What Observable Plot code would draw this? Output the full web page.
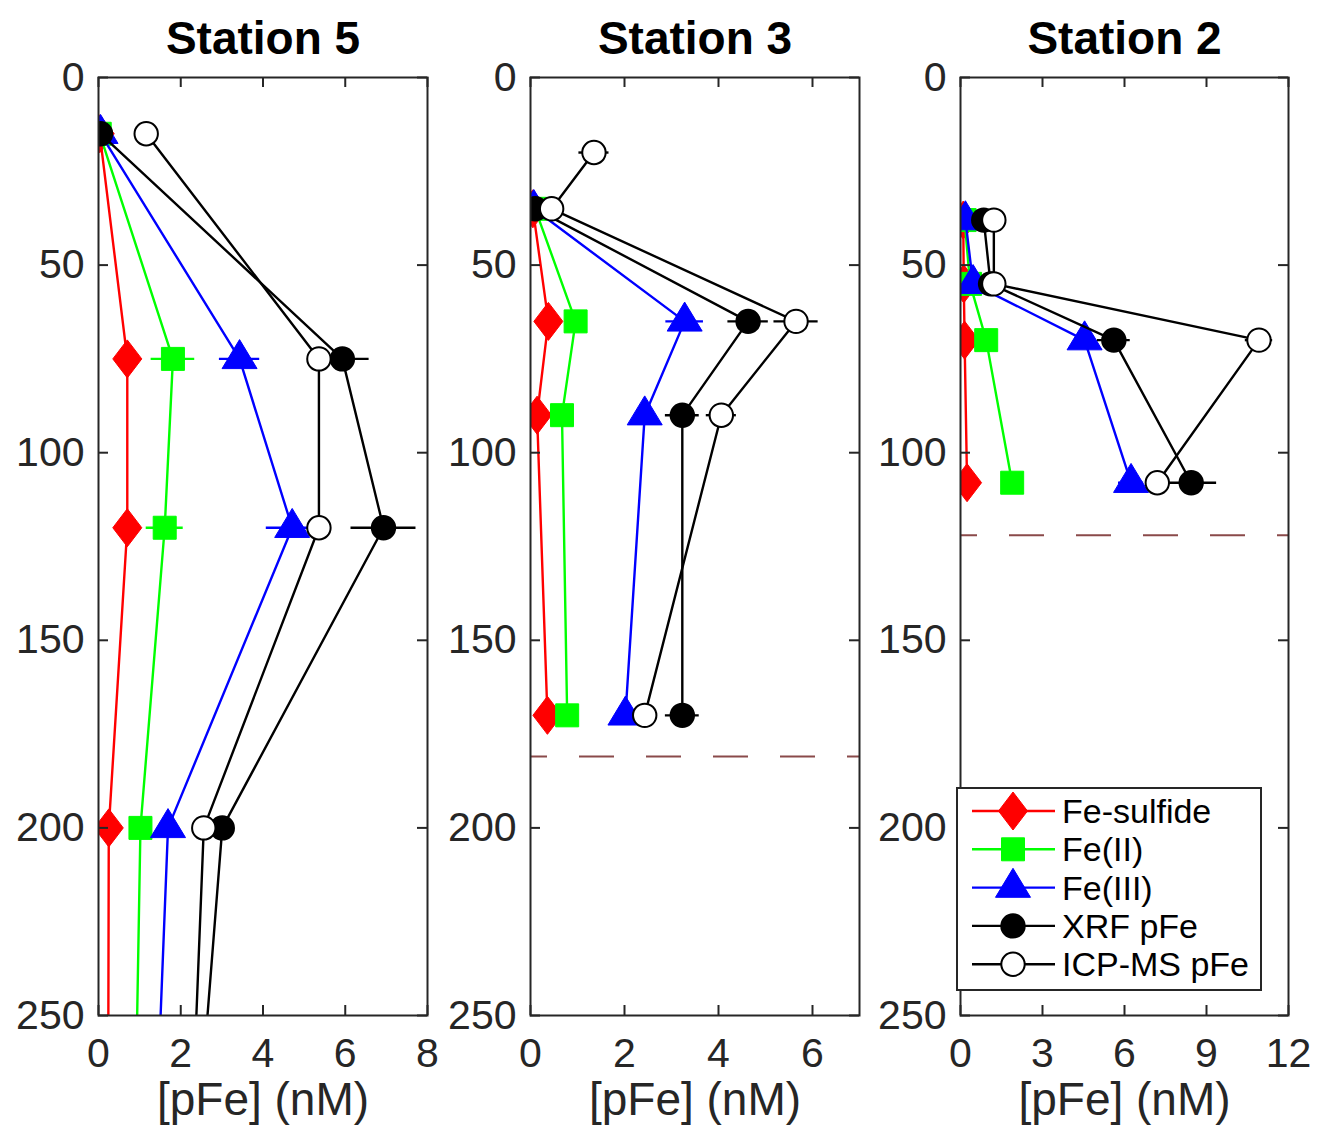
<!DOCTYPE html>
<html>
<head>
<meta charset="utf-8">
<script src="https://cdn.jsdelivr.net/npm/d3@7"></script>
<script src="https://cdn.jsdelivr.net/npm/@observablehq/plot@0.6"></script>
<style>
  html, body { margin: 0; padding: 0; background: #fff; }
  #chart { position: relative; width: 1317px; height: 1129px; font-family: "Liberation Sans", Arial, Helvetica, sans-serif; }
  #chart > svg, #chart > div { position: absolute; top: 0; }
</style>
</head>
<body>
<div id="chart"></div>
<script>
// ---------------- DATA ----------------
const stations = ["Station 5", "Station 3", "Station 2"];
const seriesNames = ["Fe-sulfide", "Fe(II)", "Fe(III)", "XRF pFe", "ICP-MS pFe"];
const xLabel = "[pFe] (nM)";
const yTicks = [0, 50, 100, 150, 200, 250];

// Station 5
const st5XTicks = [0, 2, 4, 6, 8];
const st5Depth = [15, 75, 120, 200, 300];
const st5Sulfide = [0.03, 0.70, 0.70, 0.25, 0.23];
const st5FeII = [0.03, 1.81, 1.61, 1.02, 0.86];
const st5FeIII = [0.05, 3.43, 4.71, 1.69, 1.33];
const st5XRF = [0.05, 5.93, 6.93, 3.01, 2.29];
const st5ICP = [1.16, 5.36, 5.36, 2.56, 2.20];
const st5SulfideErr = [0, 0, 0, 0, 0];
const st5FeIIErr = [0, 0.53, 0.45, 0, 0];
const st5FeIIIErr = [0, 0.49, 0.63, 0, 0];
const st5XRFErr = [0, 0.65, 0.79, 0, 0];
const st5ICPErr = [0, 0, 0, 0, 0];

// Station 3
const st3XTicks = [0, 2, 4, 6];
const st3Depth = [35, 65, 90, 170];
const st3ICPDepth = [20, 35, 65, 90, 170];
const st3Sulfide = [0.05, 0.38, 0.14, 0.36];
const st3FeII = [0.10, 0.96, 0.67, 0.78];
const st3FeIII = [0.07, 3.28, 2.43, 2.02];
const st3XRF = [0.10, 4.63, 3.23, 3.23];
const st3ICP = [1.35, 0.45, 5.65, 4.06, 2.43];
const st3SulfideErr = [0, 0, 0, 0];
const st3FeIIErr = [0, 0, 0, 0];
const st3FeIIIErr = [0, 0.40, 0, 0];
const st3XRFErr = [0, 0.43, 0.36, 0.36];
const st3ICPErr = [0.32, 0, 0.47, 0.32, 0];
const st3RefDepth = 181;

// Station 2
const st2XTicks = [0, 3, 6, 9, 12];
const st2Depth = [38, 55, 70, 108];
const st2Sulfide = [0.10, 0.12, 0.15, 0.24];
const st2FeII = [0.15, 0.35, 0.94, 1.89];
const st2FeIII = [0.18, 0.46, 4.54, 6.24];
const st2XRF = [0.85, 1.10, 5.61, 8.44];
const st2ICP = [1.22, 1.22, 10.92, 7.20];
const st2SulfideErr = [0, 0, 0, 0];
const st2FeIIErr = [0, 0, 0, 0];
const st2FeIIIErr = [0, 0, 0, 0.46];
const st2XRFErr = [0, 0, 0.60, 0.93];
const st2ICPErr = [0, 0, 0.50, 0];
const st2RefDepth = 122;

// ---------------- SYMBOLS ----------------
function makeSymbol(fn) {
  return { draw(ctx, size) { const r = Math.sqrt(size / Math.PI); fn(ctx, r); } };
}
const symDiamond = makeSymbol((c, r) => { c.moveTo(0, -1.9 * r); c.lineTo(1.45 * r, 0); c.lineTo(0, 1.9 * r); c.lineTo(-1.45 * r, 0); c.closePath(); });
const symSquare = makeSymbol((c, r) => { const h = 1.15 * r; c.moveTo(-h, -h); c.lineTo(h, -h); c.lineTo(h, h); c.lineTo(-h, h); c.closePath(); });
const symTriangle = makeSymbol((c, r) => { c.moveTo(0, -1.93 * r); c.lineTo(1.75 * r, 0.97 * r); c.lineTo(-1.75 * r, 0.97 * r); c.closePath(); });
const symCircle = makeSymbol((c, r) => { const h = 1.17 * r; c.moveTo(h, 0); c.arc(0, 0, h, 0, 2 * Math.PI); c.closePath(); });

const styles = [
  { symbol: symDiamond, color: "#ff0000", fill: "#ff0000", stroke: "#ff0000", sw: 1 },
  { symbol: symSquare, color: "#00ff00", fill: "#00ff00", stroke: "#00ff00", sw: 1 },
  { symbol: symTriangle, color: "#0000ff", fill: "#0000ff", stroke: "#0000ff", sw: 1 },
  { symbol: symCircle, color: "#000000", fill: "#000000", stroke: "#000000", sw: 2 },
  { symbol: symCircle, color: "#000000", fill: "#ffffff", stroke: "#000000", sw: 2 }
];
const lineW = 2.4;

// ---------------- BUILD ----------------
function rows(depths, values, errs) {
  return depths.map((d, i) => ({ depth: d, value: values[i], err: errs[i] }));
}

const panels = [
  { title: stations[0], xDomain: [0, 8], xTicks: st5XTicks, left: 0, width: 440, mL: 98, mR: 13, ref: null,
    series: [rows(st5Depth, st5Sulfide, st5SulfideErr), rows(st5Depth, st5FeII, st5FeIIErr), rows(st5Depth, st5FeIII, st5FeIIIErr), rows(st5Depth, st5XRF, st5XRFErr), rows(st5Depth, st5ICP, st5ICPErr)] },
  { title: stations[1], xDomain: [0, 7], xTicks: st3XTicks, left: 440, width: 430, mL: 90, mR: 11, ref: st3RefDepth,
    series: [rows(st3Depth, st3Sulfide, st3SulfideErr), rows(st3Depth, st3FeII, st3FeIIErr), rows(st3Depth, st3FeIII, st3FeIIIErr), rows(st3Depth, st3XRF, st3XRFErr), rows(st3ICPDepth, st3ICP, st3ICPErr)] },
  { title: stations[2], xDomain: [0, 12], xTicks: st2XTicks, left: 870, width: 447, mL: 90, mR: 29, ref: st2RefDepth,
    series: [rows(st2Depth, st2Sulfide, st2SulfideErr), rows(st2Depth, st2FeII, st2FeIIErr), rows(st2Depth, st2FeIII, st2FeIIIErr), rows(st2Depth, st2XRF, st2XRFErr), rows(st2Depth, st2ICP, st2ICPErr)] }
];

const H = 1129, mT = 77, mB = 114;
const frameH = H - mT - mB;
const axisColor = "#262626";
const font = '"Liberation Sans", Arial, Helvetica, sans-serif';
const chart = document.getElementById("chart");

panels.forEach(p => {
  const frameW = p.width - p.mL - p.mR;
  const marks = [];
  if (p.ref != null) {
    marks.push(Plot.ruleY([p.ref], { y: d => d, stroke: "#8a4a4a", strokeWidth: 2, strokeDasharray: "35,32", strokeDashoffset: 18 }));
  }
  p.series.forEach((data, si) => {
    const s = styles[si];
    marks.push(Plot.line(data, { x: "value", y: "depth", stroke: s.color, strokeWidth: lineW, clip: true }));
    marks.push(Plot.ruleY(data.filter(d => d.err > 0), { y: "depth", x1: d => d.value - d.err, x2: d => d.value + d.err, stroke: s.color, strokeWidth: lineW, clip: true }));
    marks.push(Plot.dot(data, { x: "value", y: "depth", symbol: s.symbol, r: 10, fill: s.fill, stroke: s.stroke, strokeWidth: s.sw, clip: true }));
  });
  // frame and inward ticks on all sides
  marks.push(Plot.frame({ stroke: axisColor, strokeWidth: 2 }));
  marks.push(Plot.ruleX(p.xTicks, { x: d => d, insetTop: frameH - 10, stroke: axisColor, strokeWidth: 2 }));
  marks.push(Plot.ruleX(p.xTicks, { x: d => d, insetBottom: frameH - 10, stroke: axisColor, strokeWidth: 2 }));
  marks.push(Plot.ruleY(yTicks, { y: d => d, insetRight: frameW - 10, stroke: axisColor, strokeWidth: 2 }));
  marks.push(Plot.ruleY(yTicks, { y: d => d, insetLeft: frameW - 10, stroke: axisColor, strokeWidth: 2 }));
  marks.push(Plot.axisX(p.xTicks, { anchor: "bottom", tickSize: 0, tickPadding: 22, fontSize: 41, label: null, fill: axisColor }));
  marks.push(Plot.axisY(yTicks, { anchor: "left", tickSize: 0, tickPadding: 14, fontSize: 41, label: null, fill: axisColor }));
  marks.push(Plot.text([p.title], { text: d => d, frameAnchor: "top", lineAnchor: "bottom", dy: -24, fontSize: 46, fontWeight: "bold", fill: "#000" }));
  marks.push(Plot.text([xLabel], { text: d => d, frameAnchor: "bottom", lineAnchor: "bottom", dy: 99, fontSize: 46, fill: axisColor }));

  const svg = Plot.plot({
    width: p.width, height: H,
    marginLeft: p.mL, marginRight: p.mR, marginTop: mT, marginBottom: mB,
    x: { domain: p.xDomain },
    y: { domain: [0, 250], reverse: true },
    style: { fontFamily: font, background: "transparent", overflow: "visible" },
    marks
  });
  svg.style.left = p.left + "px";
  chart.appendChild(svg);
});

// ---------------- LEGEND ----------------
const lg = d3.create("svg").attr("width", 306).attr("height", 204)
  .style("position", "absolute").style("left", "956px").style("top", "787px").style("overflow", "visible");
lg.append("rect").attr("x", 1).attr("y", 1).attr("width", 304).attr("height", 202)
  .attr("fill", "#fff").attr("stroke", axisColor).attr("stroke-width", 2);
seriesNames.forEach((name, i) => {
  const s = styles[i];
  const cy = 24 + i * 38.3;
  const g = lg.append("g");
  g.append("line").attr("x1", 16).attr("x2", 99).attr("y1", cy).attr("y2", cy).attr("stroke", s.color).attr("stroke-width", lineW);
  g.append("path").attr("transform", `translate(57,${cy})`)
    .attr("d", d3.symbol().type(s.symbol).size(100 * Math.PI)())
    .attr("fill", s.fill).attr("stroke", s.stroke).attr("stroke-width", s.sw);
  g.append("text").attr("x", 106).attr("y", cy).attr("dy", "0.35em")
    .attr("font-family", font).attr("font-size", 34).attr("fill", "#000").text(name);
});
chart.appendChild(lg.node());
</script>
</body>
</html>
